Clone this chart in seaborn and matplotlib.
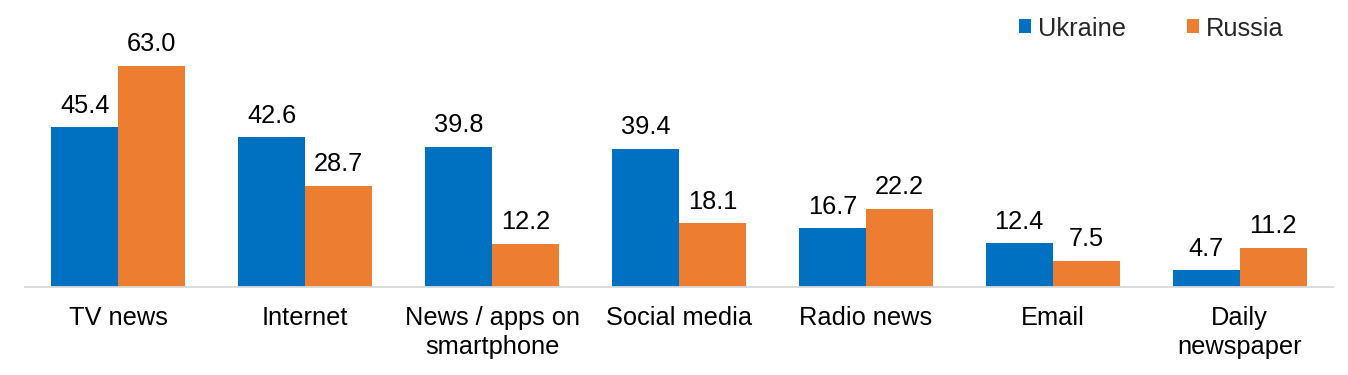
import matplotlib
matplotlib.use("Agg")
import matplotlib.pyplot as plt
import seaborn as sns
import pandas as pd

categories = ["TV news", "Internet", "News / apps on\nsmartphone", "Social media",
              "Radio news", "Email", "Daily\nnewspaper"]
ukraine = [45.4, 42.6, 39.8, 39.4, 16.7, 12.4, 4.7]
russia = [63.0, 28.7, 12.2, 18.1, 22.2, 7.5, 11.2]
series = ["Ukraine", "Russia"]
colors = ["#0070C0", "#ED7D31"]

df = pd.DataFrame({
    "category": categories * 2,
    "value": ukraine + russia,
    "country": [series[0]] * len(categories) + [series[1]] * len(categories),
})

sns.set_theme(style="white")
plt.rcParams["font.family"] = ["Liberation Sans", "DejaVu Sans"]

FS = 18.3
fig = plt.figure(figsize=(13.48, 3.75), dpi=100)
ax = fig.add_axes([25 / 1348, 88 / 375, 1308 / 1348, 246 / 375])
sns.barplot(data=df, x="category", y="value", hue="country", palette=colors,
            width=0.717, saturation=1, linewidth=0, ax=ax, order=categories,
            hue_order=series)

for c in ax.containers:
    ax.bar_label(c, labels=[f"{v:.1f}" for v in c.datavalues], padding=7,
                 fontsize=FS, color="#000000")

ax.set_ylim(0, 70)
ax.set_xlim(-0.5, 6.5)
ax.set_xlabel("")
ax.set_ylabel("")
ax.set_yticks([])
for s in ["top", "right", "left"]:
    ax.spines[s].set_visible(False)
ax.spines["bottom"].set_color("#D9D9D9")
ax.spines["bottom"].set_linewidth(1.3)
ax.tick_params(axis="x", length=0, pad=14, labelsize=FS, labelcolor="#000000")
for t in ax.get_xticklabels():
    t.set_linespacing(1.22)

ax.legend(loc="center left", bbox_to_anchor=(1019 / 1348, 1 - 28.5 / 375),
          bbox_transform=fig.transFigure, ncol=2, frameon=False, fontsize=FS,
          handlelength=0.47, handleheight=0.47, handletextpad=0.27,
          columnspacing=2.4, borderpad=0, borderaxespad=0, title=None)

fig.savefig("out.png", dpi=100)
